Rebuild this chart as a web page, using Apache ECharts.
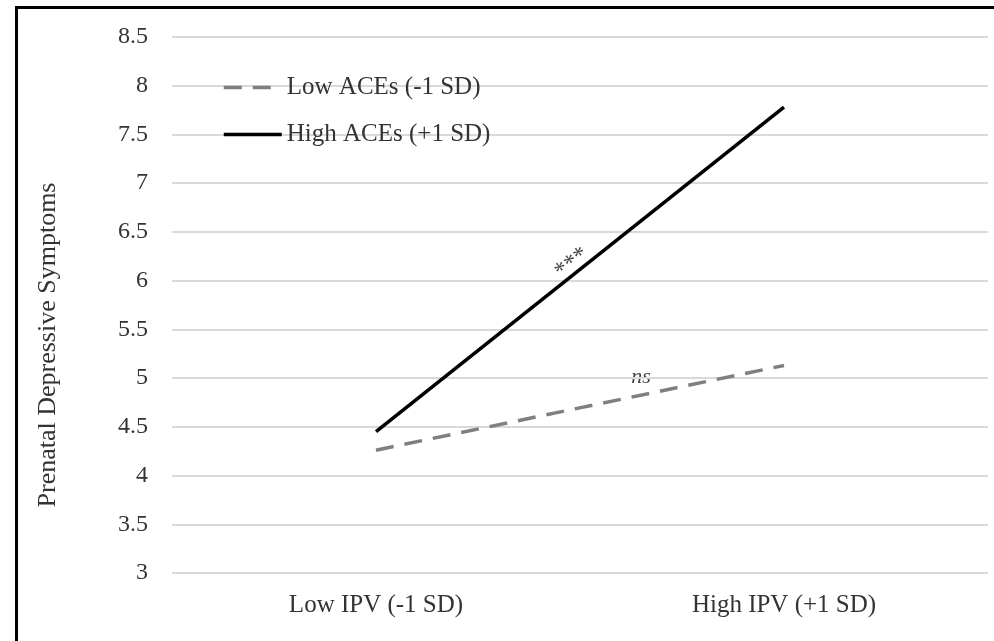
<!DOCTYPE html>
<html>
<head>
<meta charset="utf-8">
<script src="https://cdn.jsdelivr.net/npm/echarts@6/dist/echarts.min.js"></script>
<style>html,body{margin:0;padding:0;background:#fff}#c{width:994px;height:641px}</style>
</head>
<body>
<div id="c"></div>
<script>
const categories = ['Low IPV (-1 SD)', 'High IPV (+1 SD)'];
const lowACEs = [4.26, 5.13];
const highACEs = [4.45, 7.78];
const seriesNames = ['Low ACEs (-1 SD)', 'High ACEs (+1 SD)'];
const yTicks = {min: 3, max: 8.5, interval: 0.5};
const yTitle = 'Prenatal Depressive Symptoms';

const font = 'Liberation Serif';
const chart = echarts.init(document.getElementById('c'));
chart.setOption({
  animation: false,
  backgroundColor: '#fff',
  grid: {left: 172, right: 6, top: 37, bottom: 68},
  legend: {
    orient: 'vertical', left: 217, top: 70,
    itemWidth: 58, itemHeight: 26, itemGap: 22,
    itemStyle: {opacity: 0},
    lineStyle: {width: 3.5},
    textStyle: {fontFamily: font, fontSize: 25, color: '#333'},
    data: seriesNames
  },
  xAxis: {
    type: 'category', data: categories, boundaryGap: true,
    axisLine: {show: false}, axisTick: {show: false},
    axisLabel: {fontFamily: font, fontSize: 25, color: '#333', margin: 20}
  },
  yAxis: {
    type: 'value', min: yTicks.min, max: yTicks.max, interval: yTicks.interval,
    axisLine: {show: false}, axisTick: {show: false},
    axisLabel: {fontFamily: font, fontSize: 24, color: '#333', margin: 24},
    splitLine: {lineStyle: {color: '#d9d9d9', width: 2}}
  },
  series: [
    {name: seriesNames[0], type: 'line', data: lowACEs, symbol: 'none',
     lineStyle: {color: '#7f7f7f', width: 3.5, type: [18, 11]}, itemStyle: {color: '#7f7f7f'}},
    {name: seriesNames[1], type: 'line', data: highACEs, symbol: 'none',
     lineStyle: {color: '#000', width: 3.5}, itemStyle: {color: '#000'}}
  ],
  graphic: [
    {type: 'rect', left: 14, top: 5, shape: {width: 1100, height: 800},
     style: {fill: 'none', stroke: '#000', lineWidth: 3}, z: 100},
    {type: 'text', x: 48, y: 345, rotation: Math.PI / 2,
     style: {text: yTitle, font: '26px "Liberation Serif"', fill: '#333', textAlign: 'center', textVerticalAlign: 'middle'}},
    {type: 'text', x: 572, y: 263, rotation: 38.6 * Math.PI / 180,
     style: {text: '***', font: '24px "Liberation Serif"', fill: '#444', textAlign: 'center', textVerticalAlign: 'middle'}},
    {type: 'text', x: 641, y: 377,
     style: {text: 'ns', font: 'italic 22px "Liberation Serif"', fill: '#444', textAlign: 'center', textVerticalAlign: 'middle'}}
  ]
});
</script>
</body>
</html>
